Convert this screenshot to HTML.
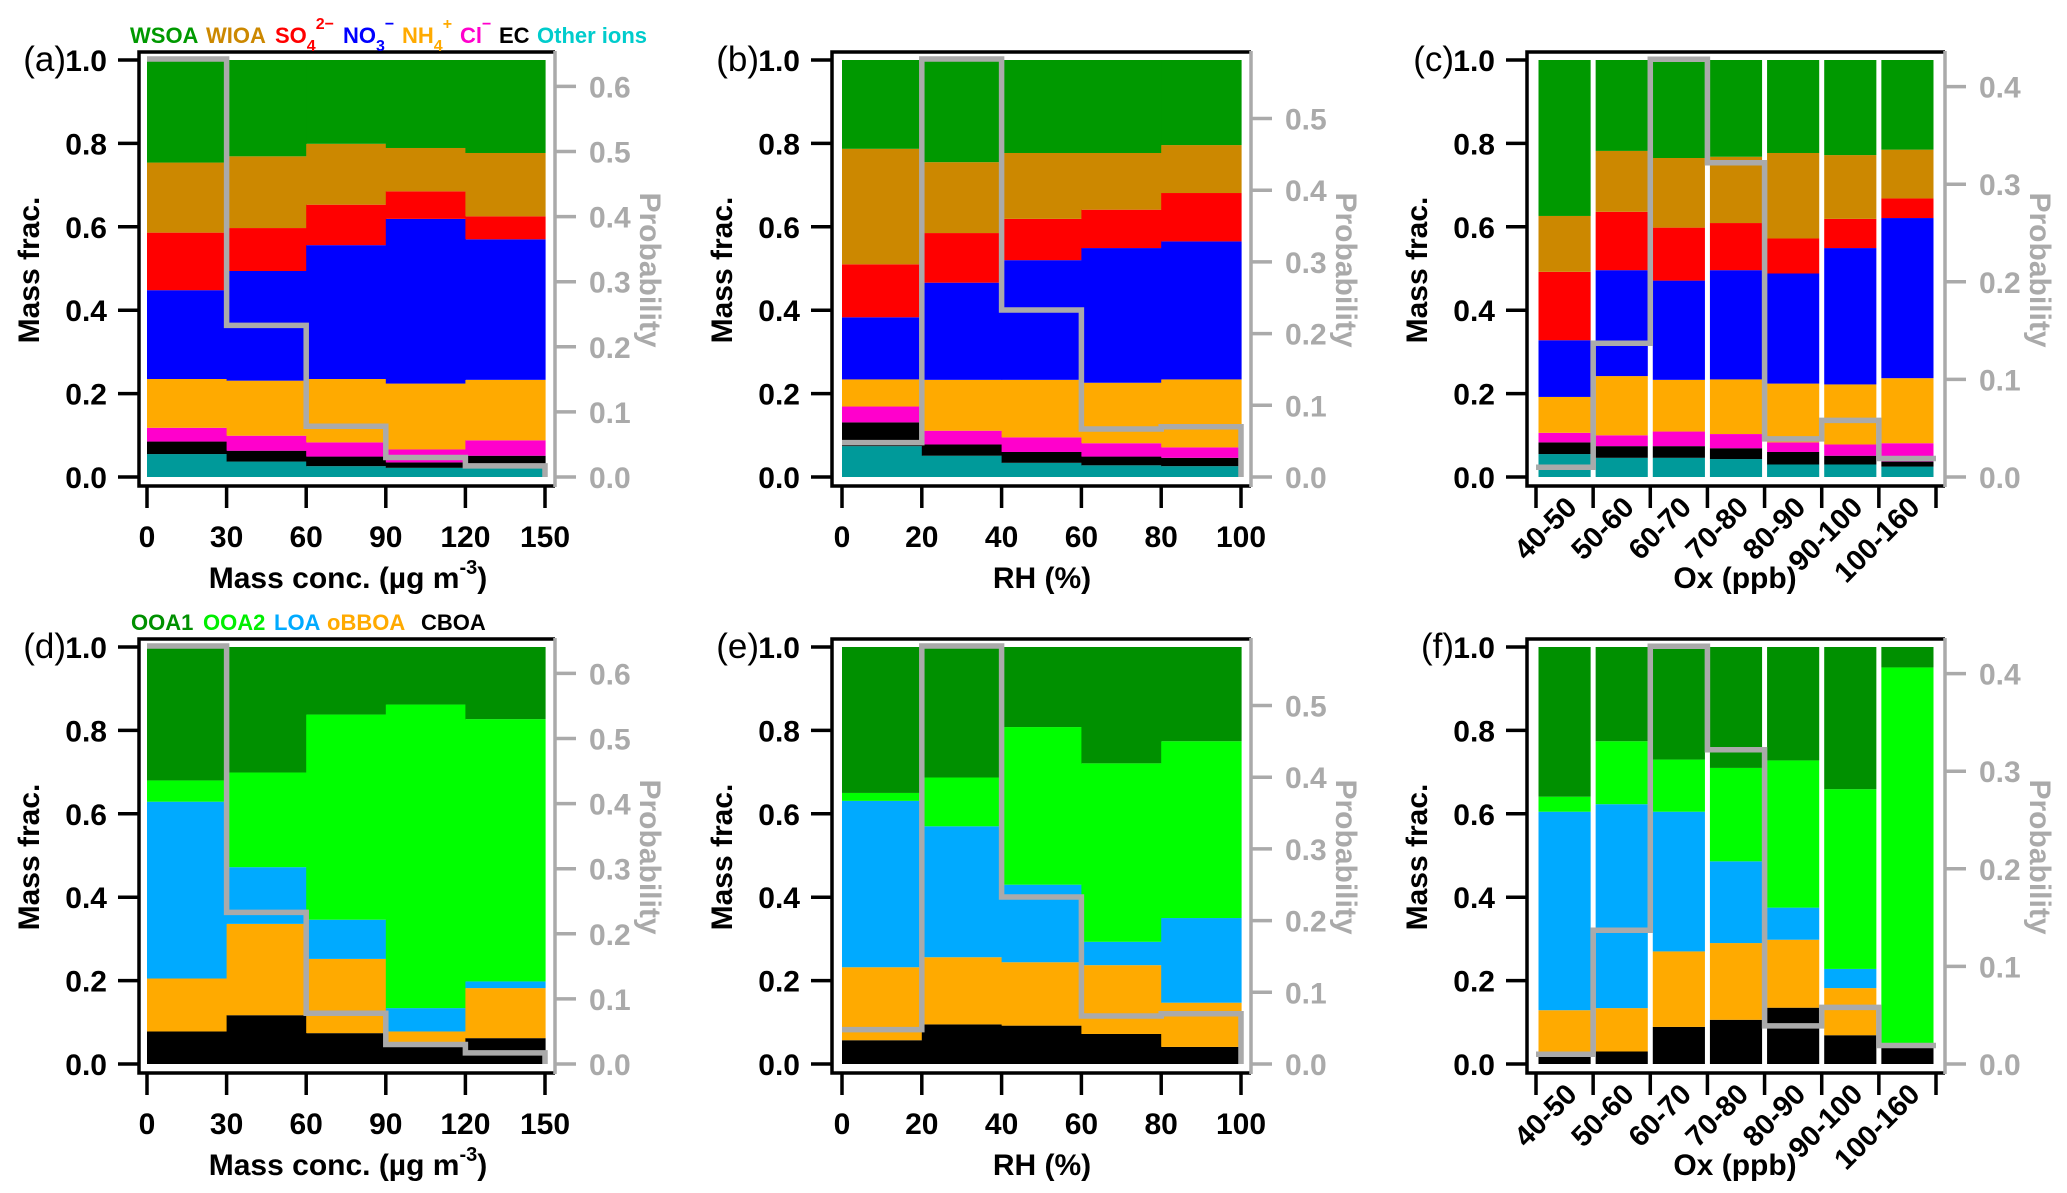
<!DOCTYPE html>
<html><head><meta charset="utf-8">
<style>
html,body{margin:0;padding:0;background:#fff;}
svg{display:block;font-family:"Liberation Sans",Arial,sans-serif;}
</style></head>
<body>
<svg id="chart" width="2067" height="1193" viewBox="0 0 2067 1193" xmlns="http://www.w3.org/2000/svg"></svg>
<script>
// ---------- DATA ----------
const massBins = [0, 30, 60, 90, 120, 150];
const rhBins = [0, 20, 40, 60, 80, 100];
const oxCats = ["40-50","50-60","60-70","70-80","80-90","90-100","100-160"];

const inorgSpecies = ["Other ions","EC","Cl","NH4","NO3","SO4","WIOA","WSOA"];
const inorgColors = ["#009a9a","#000000","#ff00cc","#ffaa00","#0000ff","#ff0000","#cc8800","#009900"];
const orgSpecies = ["CBOA","oBBOA","LOA","OOA2","OOA1"];
const orgColors = ["#000000","#ffaa00","#00aaff","#00ff00","#009000"];

const aCum = [
  [0.055,0.085,0.118,0.235,0.448,0.586,0.754,1.0],
  [0.037,0.063,0.099,0.231,0.494,0.597,0.769,1.0],
  [0.026,0.049,0.083,0.235,0.556,0.653,0.799,1.0],
  [0.022,0.035,0.066,0.224,0.619,0.685,0.789,1.0],
  [0.023,0.051,0.088,0.233,0.570,0.625,0.777,1.0]];
const bCum = [
  [0.074,0.131,0.169,0.234,0.383,0.510,0.787,1.0],
  [0.051,0.078,0.111,0.233,0.466,0.585,0.755,1.0],
  [0.034,0.060,0.095,0.233,0.520,0.619,0.777,1.0],
  [0.028,0.049,0.081,0.226,0.549,0.641,0.777,1.0],
  [0.026,0.046,0.071,0.234,0.565,0.681,0.796,1.0]];
const cCum = [
  [0.055,0.083,0.106,0.192,0.328,0.492,0.626,1.0],
  [0.046,0.074,0.100,0.242,0.496,0.636,0.782,1.0],
  [0.046,0.074,0.109,0.233,0.471,0.598,0.765,1.0],
  [0.043,0.069,0.103,0.234,0.496,0.609,0.768,1.0],
  [0.030,0.060,0.083,0.224,0.488,0.572,0.777,1.0],
  [0.030,0.051,0.078,0.222,0.549,0.619,0.772,1.0],
  [0.025,0.037,0.081,0.237,0.621,0.668,0.785,1.0]];
const dCum = [
  [0.078,0.205,0.629,0.680,1.0],
  [0.117,0.336,0.472,0.699,1.0],
  [0.074,0.252,0.346,0.838,1.0],
  [0.041,0.078,0.134,0.862,1.0],
  [0.062,0.182,0.198,0.827,1.0]];
const eCum = [
  [0.057,0.232,0.631,0.650,1.0],
  [0.095,0.256,0.570,0.687,1.0],
  [0.092,0.244,0.430,0.808,1.0],
  [0.072,0.237,0.293,0.721,1.0],
  [0.041,0.147,0.350,0.774,1.0]];
const fCum = [
  [0.017,0.129,0.605,0.641,1.0],
  [0.030,0.134,0.623,0.774,1.0],
  [0.089,0.270,0.605,0.730,1.0],
  [0.106,0.290,0.486,0.710,1.0],
  [0.135,0.298,0.375,0.728,1.0],
  [0.069,0.182,0.228,0.659,1.0],
  [0.039,0.039,0.039,0.951,1.0]];

const probMass = [0.642,0.233,0.078,0.030,0.017];
const probRH = [0.048,0.583,0.233,0.067,0.070];
const probOx = [0.010,0.137,0.428,0.322,0.039,0.058,0.019];

const leftTicks = [0.0,0.2,0.4,0.6,0.8,1.0];
const probTicksMass = [0.0,0.1,0.2,0.3,0.4,0.5,0.6];
const probTicksRH = [0.0,0.1,0.2,0.3,0.4,0.5];
const probTicksOx = [0.0,0.1,0.2,0.3,0.4];

// ---------- DRAWING ----------
const svg = document.getElementById('chart');
const NS = 'http://www.w3.org/2000/svg';
function mk(tag, attrs, parent){
  const e = document.createElementNS(NS, tag);
  for (const k in attrs) e.setAttribute(k, attrs[k]);
  (parent||svg).appendChild(e);
  return e;
}

function panel(cfg){
  const g = mk('g', {});
  
  
  const oy = cfg.oy;
  const yV = v => oy + 477 - v * 417;
  const yP = p => oy + 477 - p * cfg.pScale;
  const nb = cfg.cum.length;
  const xEdge = i => cfg.dx0 + (cfg.dx1 - cfg.dx0) * i / nb;
  const gap = cfg.cat ? 2.5 : 0;
  cfg.cum.forEach((stack, i) => {
    let prev = 0;
    stack.forEach((top, j) => {
      if (top > prev) {
        const r = mk('rect', {x: xEdge(i) + gap, y: yV(top), width: xEdge(i+1) - xEdge(i) - 2*gap + (cfg.cat?0:0.6), height: yV(prev) - yV(top), fill: cfg.colors[j]}, g);
        
        
      }
      prev = top;
    });
  });
  let d = '';
  cfg.prob.forEach((p, i) => {
    d += (i === 0 ? 'M' : 'L') + xEdge(i) + ',' + yP(p) + ' L' + xEdge(i+1) + ',' + yP(p) + ' ';
  });
  if (!cfg.cat) d += 'L' + xEdge(nb) + ',' + yV(0);
  const pl = mk('path', {d: d, fill: 'none', stroke: '#aaaaaa', 'stroke-width': 5.5, 'stroke-linejoin': 'miter'}, g);
  
  
  const ft = oy + 52, fb = oy + 486;
  const fr = mk('path', {d: `M${cfg.fx1},${ft} L${cfg.fx0},${ft} L${cfg.fx0},${fb} L${cfg.fx1},${fb}`, fill: 'none', stroke: '#000', 'stroke-width': 3.5}, g);
  
  
  const ra = mk('line', {x1: cfg.fx1, y1: ft - 1, x2: cfg.fx1, y2: fb + 1, stroke: '#aaaaaa', 'stroke-width': 3.5}, g);
  
  
  leftTicks.forEach(v => {
    const t = mk('line', {x1: cfg.fx0 - 21, x2: cfg.fx0, y1: yV(v), y2: yV(v), stroke: '#000', 'stroke-width': 3.5}, g);
    
    
    const tx = mk('text', {x: cfg.fx0 - 32, y: yV(v) + 11, 'text-anchor': 'end', 'font-size': 30, 'font-weight': 'bold', fill: '#000'}, g);
    tx.textContent = v.toFixed(1);
    
    
  });
  cfg.pTicks.forEach(p => {
    const t = mk('line', {x1: cfg.fx1, x2: cfg.fx1 + 21, y1: yP(p), y2: yP(p), stroke: '#aaaaaa', 'stroke-width': 3.5}, g);
    
    
    const tx = mk('text', {x: cfg.fx1 + 34, y: yP(p) + 11, 'font-size': 30, 'font-weight': 'bold', fill: '#aaaaaa'}, g);
    tx.textContent = p.toFixed(1);
    
    
  });
  for (let i = 0; i <= nb; i++) {
    const t = mk('line', {x1: xEdge(i), x2: xEdge(i), y1: fb, y2: fb + 22, stroke: '#000', 'stroke-width': 3.5}, g);
    
    
  }
  if (cfg.cat) {
    cfg.labels.forEach((lab, i) => {
      const cx = (xEdge(i) + xEdge(i+1)) / 2 + 14, cy = oy + 509;
      const tx = mk('text', {x: cx, y: cy, 'text-anchor': 'end', 'font-size': 29, 'font-weight': 'bold', transform: `rotate(-45 ${cx} ${cy})`}, g);
      tx.textContent = lab;
      
      
    });
  } else {
    cfg.labels.forEach((lab, i) => {
      const tx = mk('text', {x: xEdge(i), y: oy + 547, 'text-anchor': 'middle', 'font-size': 30, 'font-weight': 'bold'}, g);
      tx.textContent = lab;
      
      
    });
  }
  const yl = mk('text', {x: cfg.fx0 - 110, y: oy + 270, 'text-anchor': 'middle', 'font-size': 30, 'font-weight': 'bold', transform: `rotate(-90 ${cfg.fx0 - 110} ${oy + 270})`, dy: 10}, g);
  yl.textContent = 'Mass frac.';
  
  
  const pr = mk('text', {x: cfg.fx1 + 95, y: oy + 270, 'text-anchor': 'middle', 'font-size': 30, 'font-weight': 'bold', fill: '#aaaaaa', transform: `rotate(90 ${cfg.fx1 + 95} ${oy + 270})`, dy: 10}, g);
  pr.textContent = 'Probability';
  
  
  const xt = mk('text', {x: cfg.titleX, y: oy + 588, 'text-anchor': 'middle', 'font-size': 30, 'font-weight': 'bold'}, g);
  xt.innerHTML = cfg.title;
  
  
  const pl2 = mk('text', {x: cfg.fx0 - 73, y: oy + 71, 'text-anchor': 'end', 'font-size': 35}, g);
  pl2.textContent = '(' + cfg.id + ')';
  
  
}

const massTitle = 'Mass conc. (µg m<tspan dy="-14" font-size="20">-3</tspan><tspan dy="14">)</tspan>';
const massLabels = massBins.map(String);
const rhLabels = rhBins.map(String);

panel({id:'a', oy:0, fx0:139, fx1:555, dx0:147, dx1:545, cum:aCum, colors:inorgColors, species:inorgSpecies, prob:probMass, pScale:651, pTicks:probTicksMass, labels:massLabels, title:massTitle, titleX:348});
panel({id:'b', oy:0, fx0:832, fx1:1251, dx0:842, dx1:1241, cum:bCum, colors:inorgColors, species:inorgSpecies, prob:probRH, pScale:717, pTicks:probTicksRH, labels:rhLabels, title:'RH (%)', titleX:1042});
panel({id:'c', oy:0, fx0:1527, fx1:1945, dx0:1536, dx1:1936, cat:true, cum:cCum, colors:inorgColors, species:inorgSpecies, prob:probOx, pScale:976, pTicks:probTicksOx, labels:oxCats, title:'Ox (ppb)', titleX:1735});
panel({id:'d', oy:587, fx0:139, fx1:555, dx0:147, dx1:545, cum:dCum, colors:orgColors, species:orgSpecies, prob:probMass, pScale:651, pTicks:probTicksMass, labels:massLabels, title:massTitle, titleX:348});
panel({id:'e', oy:587, fx0:832, fx1:1251, dx0:842, dx1:1241, cum:eCum, colors:orgColors, species:orgSpecies, prob:probRH, pScale:717, pTicks:probTicksRH, labels:rhLabels, title:'RH (%)', titleX:1042});
panel({id:'f', oy:587, fx0:1527, fx1:1945, dx0:1536, dx1:1936, cat:true, cum:fCum, colors:orgColors, species:orgSpecies, prob:probOx, pScale:976, pTicks:probTicksOx, labels:oxCats, title:'Ox (ppb)', titleX:1735});

function legendItem(x, y, html, color, name){
  const t = mk('text', {x: x, y: y, 'font-size': 22, 'font-weight': 'bold', fill: color});
  t.innerHTML = html;
  
  
}
legendItem(130, 43, 'WSOA', '#009900', 'legend-wsoa');
legendItem(206, 43, 'WIOA', '#cc8800', 'legend-wioa');
legendItem(275, 43, 'SO<tspan dy="8" font-size="16">4</tspan><tspan dy="-22" font-size="16">2−</tspan>', '#ff0000', 'legend-so4');
legendItem(343, 43, 'NO<tspan dy="8" font-size="16">3</tspan><tspan dy="-22" font-size="16">−</tspan>', '#0000ff', 'legend-no3');
legendItem(402, 43, 'NH<tspan dy="8" font-size="16">4</tspan><tspan dy="-22" font-size="16">+</tspan>', '#ffaa00', 'legend-nh4');
legendItem(460, 43, 'Cl<tspan dy="-14" font-size="16">−</tspan>', '#ff00cc', 'legend-cl');
legendItem(499, 43, 'EC', '#000000', 'legend-ec');
legendItem(537, 43, 'Other ions', '#00cccc', 'legend-other-ions');

legendItem(131, 630, 'OOA1', '#009000', 'legend-ooa1');
legendItem(203, 630, 'OOA2', '#00ee00', 'legend-ooa2');
legendItem(274, 630, 'LOA', '#00aaff', 'legend-loa');
legendItem(327, 630, 'oBBOA', '#ffaa00', 'legend-obboa');
legendItem(421, 630, 'CBOA', '#000000', 'legend-cboa');
</script>
</body></html>
